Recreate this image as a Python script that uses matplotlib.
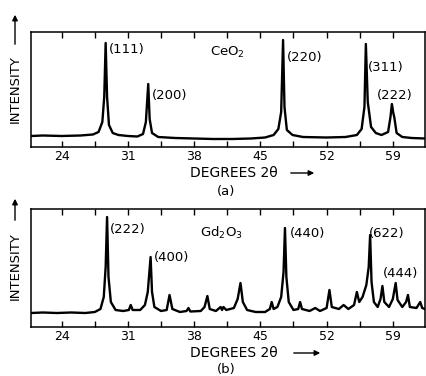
import matplotlib
matplotlib.use("Agg")
import matplotlib.pyplot as plt

# ---- data ----
tick_values = [24, 31, 38, 45, 52, 59]
minor_values = [27.5, 34.5, 41.5, 48.5, 55.5]

ceo2_theta = [20.8, 22, 24, 26, 27.3, 27.9, 28.3, 28.5, 28.65, 28.8, 29.0, 29.4, 30.0, 31,
              32.0, 32.6, 32.9, 33.15, 33.3, 33.55, 34.2, 36, 38, 40, 42, 44, 45.5, 46.4,
              46.9, 47.2, 47.4, 47.55, 47.8, 48.4, 49.5, 52, 54, 55.2, 55.7, 56.0, 56.15,
              56.35, 56.7, 57.2, 57.8, 58.5, 58.75, 58.9, 59.05, 59.15, 59.4, 60, 61, 62.4]
ceo2_int = [11, 11.5, 11, 11.5, 12.5, 15, 25, 50, 104, 50, 22, 14, 12, 11,
            10.5, 13, 25, 63, 28, 14, 10, 9, 8.5, 8, 8, 8.5, 9.5, 12,
            18, 35, 107, 40, 17, 12, 10, 9.5, 10, 12, 18, 40, 103,
            45, 20, 14, 12, 15, 30, 43, 34, 30, 14, 10, 9, 8.5]

gd2o3_theta = [20.8, 22, 23.5, 25, 26.5, 27.5, 28.1, 28.45, 28.65, 28.8, 28.95, 29.2, 29.7,
               30.5, 31.1, 31.3, 31.5, 32.3, 32.8, 33.1, 33.4, 33.55, 33.8, 34.5, 35.1, 35.4,
               35.7, 36.5, 37.2, 37.4, 37.6, 38.7, 39.1, 39.4, 39.65, 40.3, 40.8, 40.95, 41.1,
               41.4, 42.2, 42.6, 42.9, 43.15, 43.6, 44.5, 45.5, 46.0, 46.2, 46.4, 46.8, 47.2,
               47.45, 47.6, 47.75, 48.0, 48.5, 49.0, 49.2, 49.4, 50.2, 50.8, 51.3, 52.0, 52.3,
               52.55, 53.3, 53.8, 54.3, 54.9, 55.2, 55.45, 55.8, 56.2, 56.45, 56.6, 56.75, 57.0,
               57.4, 57.7, 57.9, 58.1, 58.6, 59.0, 59.3, 59.5, 60.0, 60.4, 60.6, 60.8, 61.5,
               61.9, 62.1, 62.4]
gd2o3_int = [14, 14.5, 14, 14.5, 14, 15, 18, 30, 60, 110, 50, 25, 17,
             16, 17, 22, 17, 17, 22, 35, 70, 35, 20, 16, 17, 32,
             18, 15, 16, 19, 15.5, 16, 20, 31, 18, 16, 20, 17, 20,
             17, 19, 28, 44, 25, 17, 15, 15, 18, 25, 18, 20, 30,
             55, 99, 50, 25, 17, 18, 25, 18, 16, 19, 16, 19, 37,
             20, 18, 22, 18, 22, 35, 25, 30, 42, 60, 92, 45, 25,
             20, 28, 41, 25, 20, 28, 44, 27, 20, 25, 32, 20, 19,
             25, 19, 18]

ceo2_labels = ["(111)", "CeO$_2$", "(200)", "(220)", "(311)", "(222)"]
ceo2_label_x = [28.95, 39.7, 33.5, 47.8, 56.4, 57.3]
ceo2_label_y = [97, 95, 52, 90, 80, 51]

gd2o3_labels = ["(222)", "Gd$_2$O$_3$", "(400)", "(440)", "(622)", "(444)"]
gd2o3_label_x = [29.05, 38.6, 33.75, 48.1, 56.5, 57.9]
gd2o3_label_y = [97, 94, 69, 94, 94, 54]

W, H = 426, 376
fig = plt.figure(figsize=(W / 100, H / 100), dpi=100)
plt.rcParams['font.family'] = ['DejaVu Sans']


def px_axes(left, top, right, bottom):
    return fig.add_axes([left / W, 1 - bottom / H, (right - left) / W, (bottom - top) / H])


def style(ax, ymax):
    ax.set_xlim(20.76, 62.4)
    ax.set_ylim(0, ymax)
    ax.set_yticks([])
    ax.set_xticks(tick_values)
    ax.set_xticks(minor_values, minor=True)
    ax.set_xticklabels([str(v) for v in tick_values], fontsize=9)
    ax.tick_params(axis='x', which='both', direction='in', top=True, bottom=True,
                   length=4, width=1, pad=2)
    for s in ax.spines.values():
        s.set_linewidth(1.1)


def fig_text(x, y, s, **kw):
    fig.text(x / W, 1 - y / H, s, **kw)


def fig_arrow(x0, y0, x1, y1):
    fig.add_artist(matplotlib.patches.FancyArrowPatch(
        (x0 / W, 1 - y0 / H), (x1 / W, 1 - y1 / H), transform=fig.transFigure,
        arrowstyle='-|>', mutation_scale=8, lw=1.0, color='black'))


ax1 = px_axes(31, 32, 425, 147)
ax1.plot(ceo2_theta, ceo2_int, color='black', lw=1.7)
style(ax1, 115)
for s, x, y in zip(ceo2_labels, ceo2_label_x, ceo2_label_y):
    ax1.text(x, y, s, ha='left', va='center', fontsize=9.5)

ax2 = px_axes(31, 209, 425, 327)
ax2.plot(gd2o3_theta, gd2o3_int, color='black', lw=1.7)
style(ax2, 118)
for s, x, y in zip(gd2o3_labels, gd2o3_label_x, gd2o3_label_y):
    ax2.text(x, y, s, ha='left', va='center', fontsize=9.5)

# x labels with arrows
for ylab, sub_y, x0, x_end, sub in [(173, 191, 288, 317, "(a)"), (353, 370, 291, 323, "(b)")]:
    fig_text(234, ylab, "DEGREES 2θ", ha='center', va='center', fontsize=10)
    fig_arrow(x0, ylab, x_end, ylab)
    fig_text(226, sub_y, sub, ha='center', va='center', fontsize=9.5)

# y labels with arrows
for yc, y0, ytip in [(89, 47, 12), (266, 223, 196)]:
    fig_text(15, yc, "INTENSITY", rotation=90, ha='center', va='center', fontsize=9.5)
    fig_arrow(15, y0, 15, ytip)

fig.savefig("out.png", dpi=100)
